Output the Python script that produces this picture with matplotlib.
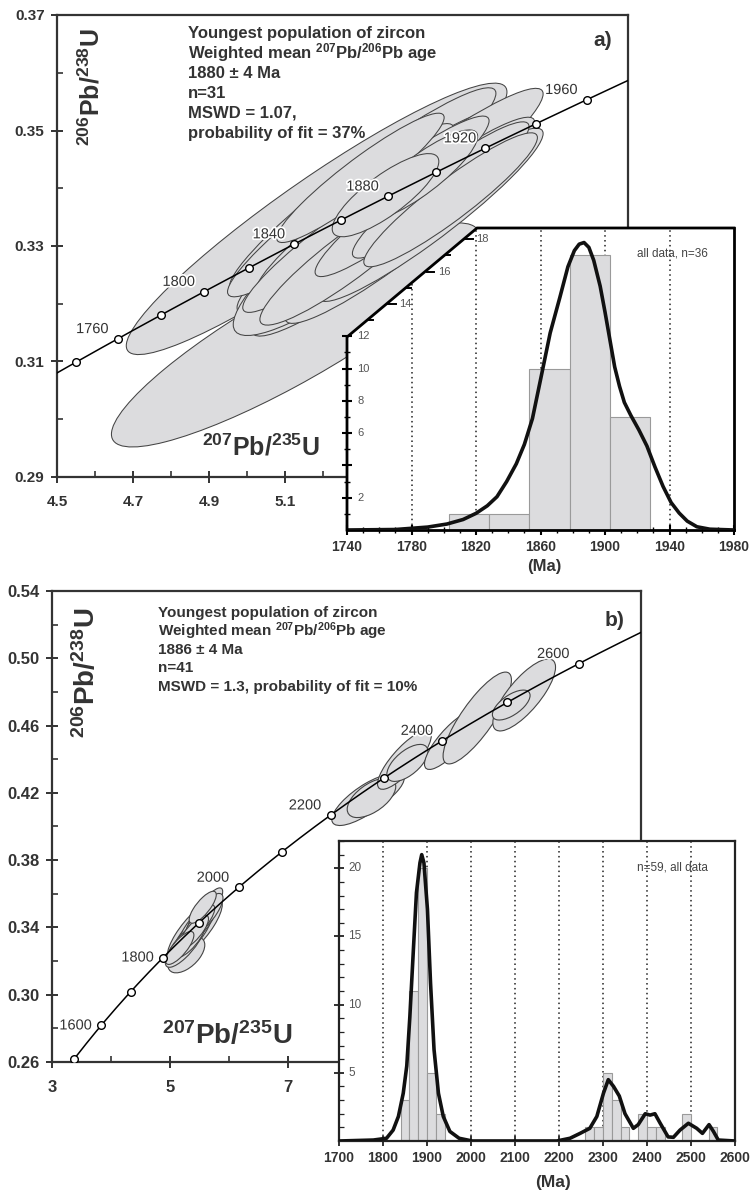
import numpy as np
import matplotlib
matplotlib.use("Agg")
import matplotlib.pyplot as plt
from matplotlib.patches import Ellipse, Polygon
import matplotlib.patheffects as pe
from matplotlib.ticker import FixedLocator

plt.rcParams['font.family'] = ['Liberation Sans', 'DejaVu Sans']
plt.rcParams['mathtext.fontset'] = 'custom'
plt.rcParams['mathtext.rm'] = 'Liberation Sans'
plt.rcParams['mathtext.bf'] = 'Liberation Sans:bold'
plt.rcParams['mathtext.it'] = 'Liberation Sans:italic'

# ================================ Constants =====================================
W, H = 750, 1194
LAMBDA_238 = 1.55125e-10
LAMBDA_235 = 9.8485e-10

FILL = '#dcdcde'
EDGE = '#444444'
TXT = '#333333'

# ================================ Data: panel a =================================
A_XTICKS = [4.5, 4.7, 4.9, 5.1, 5.3, 5.5, 5.7, 5.9]
A_XLABELS = ['4.5', '4.7', '4.9', '5.1', '', '', '', '']
A_XMINOR = [4.6, 4.8, 5.0, 5.2, 5.4, 5.6, 5.8, 6.0]
A_YTICKS = [0.29, 0.31, 0.33, 0.35, 0.37]
A_YLABELS = ['0.29', '0.31', '0.33', '0.35', '0.37']
A_YMINOR = [0.30, 0.32, 0.34, 0.36]
A_MARK_AGES = [1740, 1760, 1780, 1800, 1820, 1840, 1860, 1880, 1900, 1920, 1940, 1960]
A_LABEL_AGES = [1760, 1800, 1840, 1880, 1920, 1960]

# error ellipses: 207Pb/235U, sigma, 206Pb/238U, sigma, rho
A_X = [5.126, 5.182, 5.303, 5.318, 5.363, 5.429, 5.284, 5.245, 5.389, 5.455, 5.482, 5.350,
       5.258, 5.218, 5.271, 5.403, 5.508, 5.534, 5.297, 5.455, 5.363]
A_SX = [0.483, 0.500, 0.350, 0.345, 0.352, 0.348, 0.321, 0.297, 0.290, 0.300, 0.295, 0.285,
        0.234, 0.230, 0.238, 0.225, 0.232, 0.228, 0.220, 0.150, 0.140]
A_Y = [0.3146, 0.3347, 0.3397, 0.3359, 0.3324, 0.3397, 0.3310, 0.3362, 0.3314, 0.3371, 0.3354, 0.3380,
       0.3336, 0.3302, 0.3284, 0.3362, 0.3397, 0.3380, 0.3418, 0.3423, 0.3388]
A_SY = [0.0194, 0.0235, 0.0177, 0.0175, 0.0180, 0.0176, 0.0165, 0.0150, 0.0148, 0.0152, 0.0150, 0.0145,
        0.0119, 0.0117, 0.0121, 0.0115, 0.0118, 0.0116, 0.0112, 0.0078, 0.0072]
A_RHO = [0.886, 0.935, 0.945, 0.947, 0.938, 0.945, 0.885, 0.942, 0.933, 0.942, 0.938, 0.943,
         0.930, 0.928, 0.918, 0.930, 0.930, 0.928, 0.932, 0.855, 0.810]

# inset a: histogram and density curve
IA_BIN_LEFT = [1803, 1828, 1853, 1878, 1903]
IA_BIN_WIDTH = 25
IA_COUNTS = [1, 1, 10, 17, 7]
IA_KDE_AGE = [1740, 1770, 1790, 1802, 1812, 1820, 1827, 1833, 1839, 1845, 1850, 1855, 1860, 1866,
              1872, 1877, 1881, 1884, 1887, 1890, 1893, 1897, 1900, 1903, 1906, 1909, 1912, 1916,
              1921, 1926, 1931, 1936, 1941, 1946, 1951, 1957, 1965, 1980]
IA_KDE_VAL = [0, 0.03, 0.18, 0.37, 0.65, 1.03, 1.5, 2.06, 3.0, 4.1, 5.3, 6.9, 9.3, 12.2,
              14.4, 16.3, 17.3, 17.7, 17.8, 17.5, 16.7, 15.1, 13.5, 11.8, 10.1, 8.9, 7.9, 7.1,
              6.2, 5.2, 3.9, 2.7, 1.7, 1.05, 0.55, 0.2, 0.05, 0]
IA_XTICKS = [1740, 1780, 1820, 1860, 1900, 1940, 1980]
IA_GRID = [1780, 1820, 1860, 1900, 1940]
IA_YTICKS = [2, 4, 6, 8, 10, 12]
IA_YLABELS = ['2', '', '6', '8', '10', '12']
IA_DIAG_TICKS = [13, 14, 15, 16, 17, 18]

# ================================ Data: panel b =================================
B_XTICKS = [3, 5, 7, 9, 11, 13]
B_XLABELS = ['3', '5', '7', '', '', '']
B_XMINOR = [4, 6, 8, 10, 12]
B_YTICKS = [0.26, 0.30, 0.34, 0.38, 0.42, 0.46, 0.50, 0.54]
B_YLABELS = ['0.26', '0.30', '0.34', '0.38', '0.42', '0.46', '0.50', '0.54']
B_YMINOR = [0.28, 0.32, 0.36, 0.40, 0.44, 0.48, 0.52]
B_MARK_AGES = [1500, 1600, 1700, 1800, 1900, 2000, 2100, 2200, 2300, 2400, 2500, 2600]
B_LABEL_AGES = [1600, 1800, 2000, 2200, 2400, 2600]

B_X = [8.322, 8.56, 8.424, 8.983, 9.034, 9.78, 10.22, 11.017, 10.797,
       5.424, 5.280, 5.703, 5.373, 5.475, 5.254, 5.593, 5.339, 5.508, 5.407, 5.169, 5.559]
B_SX = [0.571, 0.420, 0.412, 0.456, 0.349, 0.456, 0.580, 0.532, 0.320,
        0.467, 0.314, 0.195, 0.332, 0.320, 0.330, 0.310, 0.261, 0.255, 0.250, 0.240, 0.230]
B_Y = [0.4158, 0.4200, 0.4170, 0.4396, 0.4378, 0.4514, 0.4645, 0.4782, 0.4722,
       0.3385, 0.3237, 0.3549, 0.3355, 0.3415, 0.3296, 0.3474, 0.3326, 0.3433, 0.3373, 0.3278, 0.3520]
B_SY = [0.0152, 0.0115, 0.0117, 0.0175, 0.0110, 0.0175, 0.0273, 0.0214, 0.0089,
        0.0189, 0.0107, 0.0086, 0.0133, 0.0130, 0.0133, 0.0128, 0.0105, 0.0102, 0.0100, 0.0098, 0.0095]
B_RHO = [0.765, 0.750, 0.577, 0.817, 0.620, 0.817, 0.827, 0.771, 0.640,
         0.800, 0.550, 0.750, 0.790, 0.790, 0.790, 0.790, 0.780, 0.780, 0.780, 0.780, 0.780]

IB_BIN_LEFT = [1840, 1860, 1880, 1900, 1920, 2260, 2280, 2300, 2320, 2340, 2380, 2400, 2420, 2480, 2540]
IB_BIN_WIDTH = 20
IB_COUNTS = [3, 11, 20, 5, 2, 1, 1, 5, 3, 1, 2, 1, 1, 2, 1]
IB_KDE_AGE = [1700, 1778, 1808, 1823, 1835, 1846, 1854, 1861, 1869, 1876, 1884, 1888, 1893, 1901,
              1908, 1916, 1926, 1937, 1952, 1973, 2003, 2195, 2225, 2248, 2270, 2286, 2301, 2312,
              2324, 2337, 2350, 2369, 2380, 2396, 2407, 2418, 2430, 2448, 2460, 2475, 2494, 2513,
              2526, 2541, 2551, 2562, 2600]
IB_KDE_VAL = [0, 0.07, 0.2, 0.8, 1.8, 3.5, 5.5, 9.1, 14.0, 18.2, 20.4, 21.0, 20.4, 17.0,
              11.6, 6.7, 3.5, 1.8, 0.7, 0.2, 0, 0, 0.2, 0.56, 0.93, 1.8, 3.5, 4.5,
              4.0, 3.3, 2.0, 0.93, 1.2, 2.0, 1.9, 2.0, 1.3, 0.3, 0.27, 0.8, 1.3, 0.93,
              0.56, 1.2, 0.7, 0.07, 0]
IB_XTICKS = [1700, 1800, 1900, 2000, 2100, 2200, 2300, 2400, 2500, 2600]
IB_GRID = [1800, 1900, 2000, 2100, 2200, 2300, 2400, 2500]
IB_YTICKS = [5, 10, 15, 20]
IB_YMINOR = list(range(1, 23))

A_TEXT = ["Youngest population of zircon",
          r"Weighted mean $^{\mathbf{207}}$Pb/$^{\mathbf{206}}$Pb age",
          "1880 ± 4 Ma", "n=31", "MSWD = 1.07,", "probability of fit = 37%"]
B_TEXT = ["Youngest population of zircon",
          r"Weighted mean $^{\mathbf{207}}$Pb/$^{\mathbf{206}}$Pb age",
          "1886 ± 4 Ma", "n=41", "MSWD = 1.3, probability of fit = 10%"]
YLABEL = r"$^{\mathbf{206}}$Pb/$^{\mathbf{238}}$U"
XLABEL = r"$^{\mathbf{207}}$Pb/$^{\mathbf{235}}$U"


# ============================= Useful functions =============================
def box(l, t, r, b):
    return [l / W, 1 - b / H, (r - l) / W, (b - t) / H]


def fx(px):
    return px / W


def fy(py):
    return 1 - py / H


def concordia(t_ma):
    t = np.asarray(t_ma, dtype=float) * 1e6
    return np.exp(LAMBDA_235 * t) - 1, np.exp(LAMBDA_238 * t) - 1


def error_ellipse(x, sx, y, sy, rho, **kw):
    cov = np.array([[sx * sx, rho * sx * sy], [rho * sx * sy, sy * sy]])
    vals, vecs = np.linalg.eigh(cov)
    angle = np.degrees(np.arctan2(vecs[1, 1], vecs[0, 1]))
    return Ellipse((x, y), 2 * np.sqrt(vals[1]), 2 * np.sqrt(vals[0]), angle=angle, **kw)


def style_main(ax, xt, xl, xm, yt, yl, ym, size):
    for s in ax.spines.values():
        s.set_linewidth(1.6)
        s.set_color(TXT)
    ax.set_xticks(xt, xl, fontweight='bold', fontsize=size, color=TXT)
    ax.set_yticks(yt, yl, fontweight='bold', fontsize=size, color=TXT)
    ax.xaxis.set_minor_locator(FixedLocator(xm))
    ax.yaxis.set_minor_locator(FixedLocator(ym))
    ax.tick_params(which='major', direction='inout', length=8, width=1.4, color=TXT)
    ax.tick_params(axis='x', which='major', pad=9)
    ax.tick_params(axis='y', which='major', pad=5)
    ax.tick_params(which='minor', direction='in', length=4, width=1.2, color=TXT)


def draw_concordia(ax, t0, t1, marks, labels, lift):
    cx, cy = concordia(np.linspace(t0, t1, 300))
    ax.plot(cx, cy, color='k', lw=1.1, zorder=3)
    mx, my = concordia(marks)
    ax.plot(mx, my, 'o', ms=5.5, mfc='white', mec='k', mew=1.0, zorder=4)
    for age in labels:
        lx, ly = concordia(age)
        ax.annotate(str(age), (lx, ly), xytext=(-6.5, lift.get(age, 7)), textcoords='offset points',
                    ha='right', va='center', fontsize=10.5, color=TXT, zorder=5,
                    path_effects=[pe.withStroke(linewidth=2.5, foreground='white')])


fig = plt.figure(figsize=(W / 100, H / 100), dpi=100)

# ================================ Panel a ======================================
ax_a = fig.add_axes(box(57, 15, 628, 477))
ax_a.set_xlim(4.5, 6.0)
ax_a.set_ylim(0.29, 0.37)
style_main(ax_a, A_XTICKS, A_XLABELS, A_XMINOR, A_YTICKS, A_YLABELS, A_YMINOR, 11)
for i in range(len(A_X)):
    ax_a.add_patch(error_ellipse(A_X[i], A_SX[i], A_Y[i], A_SY[i], A_RHO[i],
                                 fc=FILL, ec=EDGE, lw=0.75, zorder=2))
draw_concordia(ax_a, 1720, 1990, A_MARK_AGES, A_LABEL_AGES, {})

for i, line in enumerate(A_TEXT):
    fig.text(fx(188), fy(38 + 20 * i), line, fontsize=12, fontweight='bold', color=TXT, va='baseline')
fig.text(fx(603), fy(40), 'a)', fontsize=15, fontweight='bold', color=TXT, ha='center', va='center')
fig.text(fx(91), fy(87), YLABEL, rotation=90, fontsize=18, fontweight='bold', color=TXT,
         ha='center', va='center')
fig.text(fx(261), fy(447), XLABEL, fontsize=18, fontweight='bold', color=TXT, ha='center', va='center')

# ================================ Inset a ======================================
IA_YMAX = 18.7
CUT_X, CUT_Y = 0.336, 0.639
ax_ia = fig.add_axes(box(347, 228, 734, 530))
ax_ia.set_xlim(1740, 1980)
ax_ia.set_ylim(0, IA_YMAX)
ax_ia.set_facecolor('none')
ax_ia.spines['left'].set_visible(False)
ax_ia.spines['top'].set_visible(False)
for s in ['bottom', 'right']:
    ax_ia.spines[s].set_linewidth(2)
    ax_ia.spines[s].set_color('k')
bg = Polygon([(0, 0), (1, 0), (1, 1), (CUT_X, 1), (0, CUT_Y)], closed=True,
             transform=ax_ia.transAxes, fc='white', ec='none', zorder=0)
ax_ia.add_patch(bg)
ax_ia.plot([0, 0, CUT_X, 1], [0, CUT_Y, 1, 1], transform=ax_ia.transAxes, color='k', lw=2,
           clip_on=False, zorder=6, solid_joinstyle='miter')
for xv in IA_GRID:
    gl = ax_ia.axvline(xv, color='#222222', lw=1.1, ls=(0, (1, 2.2)), zorder=1)
    gl.set_clip_path(bg)
ax_ia.bar(IA_BIN_LEFT, IA_COUNTS, width=IA_BIN_WIDTH, align='edge', color=FILL,
          edgecolor='#9a9a9a', lw=0.8, zorder=2)
ax_ia.plot(IA_KDE_AGE, IA_KDE_VAL, color='#111111', lw=2.6, zorder=3, solid_capstyle='round')

ax_ia.set_xticks(IA_XTICKS, [str(v) for v in IA_XTICKS], fontweight='bold', fontsize=10, color=TXT)
ax_ia.xaxis.set_minor_locator(FixedLocator(list(range(1750, 1980, 10))))
ax_ia.set_yticks(IA_YTICKS, [''] * len(IA_YTICKS))
ax_ia.yaxis.set_minor_locator(FixedLocator([1, 3, 5, 7, 9, 11]))
ax_ia.tick_params(which='major', direction='inout', length=7, width=1.5, color='k')
ax_ia.tick_params(which='minor', direction='inout', length=4, width=1.0, color='k')
ax_ia.tick_params(axis='x', which='major', pad=4)
for v, lab in zip(IA_YTICKS, IA_YLABELS):
    ax_ia.text(0.027, v, lab, transform=ax_ia.get_yaxis_transform(), fontsize=8, color='#555555',
               ha='left', va='center')
for v in IA_DIAG_TICKS:
    ya = v / IA_YMAX
    xa = (ya - CUT_Y) / (1 - CUT_Y) * CUT_X
    ln = 0.02 if v % 2 == 0 else 0.01
    ax_ia.plot([xa + 0.004, xa + 0.004 + ln], [ya, ya], transform=ax_ia.transAxes, color='k',
               lw=1.4, clip_on=False, zorder=6)
    if v % 2 == 0:
        ax_ia.text(xa + 0.033, ya, str(v), transform=ax_ia.transAxes, fontsize=8,
                   color='#555555', ha='left', va='center')
ax_ia.text(0.84, 0.914, 'all data, n=36', transform=ax_ia.transAxes, fontsize=8.5,
           color='#444444', ha='center', va='center')
fig.text(fx(544), fy(567), '(Ma)', fontsize=12, fontweight='bold', color=TXT, ha='center', va='center')

# ================================ Panel b ======================================
ax_b = fig.add_axes(box(52, 591, 641, 1062))
ax_b.set_xlim(3, 13)
ax_b.set_ylim(0.26, 0.54)
style_main(ax_b, B_XTICKS, B_XLABELS, B_XMINOR, B_YTICKS, B_YLABELS, B_YMINOR, 12)
for i in range(len(B_X)):
    ax_b.add_patch(error_ellipse(B_X[i], B_SX[i], B_Y[i], B_SY[i], B_RHO[i],
                                 fc=FILL, ec=EDGE, lw=0.8, zorder=2))
draw_concordia(ax_b, 1400, 2720, B_MARK_AGES, B_LABEL_AGES, {1600: 0, 1800: 0})

for i, line in enumerate(B_TEXT):
    fig.text(fx(158), fy(617 + 18.5 * i), line, fontsize=11, fontweight='bold', color=TXT, va='baseline')
fig.text(fx(615), fy(620), 'b)', fontsize=15, fontweight='bold', color=TXT, ha='center', va='center')
fig.text(fx(87), fy(673), YLABEL, rotation=90, fontsize=20, fontweight='bold', color=TXT,
         ha='center', va='center')
fig.text(fx(227), fy(1036), XLABEL, fontsize=20, fontweight='bold', color=TXT, ha='center', va='center')

# ================================ Inset b ======================================
ax_ib = fig.add_axes(box(339, 841, 735, 1141))
ax_ib.set_xlim(1700, 2600)
ax_ib.set_ylim(0, 22)
for s in ax_ib.spines.values():
    s.set_linewidth(1.6)
    s.set_color('#222222')
for xv in IB_GRID:
    ax_ib.axvline(xv, color='#222222', lw=1.1, ls=(0, (1, 2.2)), zorder=1)
ax_ib.bar(IB_BIN_LEFT, IB_COUNTS, width=IB_BIN_WIDTH, align='edge', color=FILL,
          edgecolor='#9a9a9a', lw=0.8, zorder=2)
ax_ib.plot(IB_KDE_AGE, IB_KDE_VAL, color='#111111', lw=2.6, zorder=3, solid_capstyle='round')
ax_ib.set_xticks(IB_XTICKS, [str(v) for v in IB_XTICKS], fontweight='bold', fontsize=10, color=TXT)
ax_ib.set_yticks(IB_YTICKS, [''] * len(IB_YTICKS))
ax_ib.yaxis.set_minor_locator(FixedLocator(IB_YMINOR))
ax_ib.tick_params(which='major', direction='inout', length=7, width=1.3, color='#222222')
ax_ib.tick_params(which='minor', direction='in', length=3.5, width=0.9, color='#222222')
ax_ib.tick_params(axis='x', which='major', pad=4)
for v in IB_YTICKS:
    ax_ib.text(0.024, v, str(v), transform=ax_ib.get_yaxis_transform(), fontsize=8.5,
               color='#555555', ha='left', va='center')
ax_ib.text(0.843, 0.91, 'n=59, all data', transform=ax_ib.transAxes, fontsize=8.5,
           color='#444444', ha='center', va='center')
fig.text(fx(553), fy(1183), '(Ma)', fontsize=12.5, fontweight='bold', color=TXT, ha='center', va='center')

fig.savefig('out.png', dpi=100)
